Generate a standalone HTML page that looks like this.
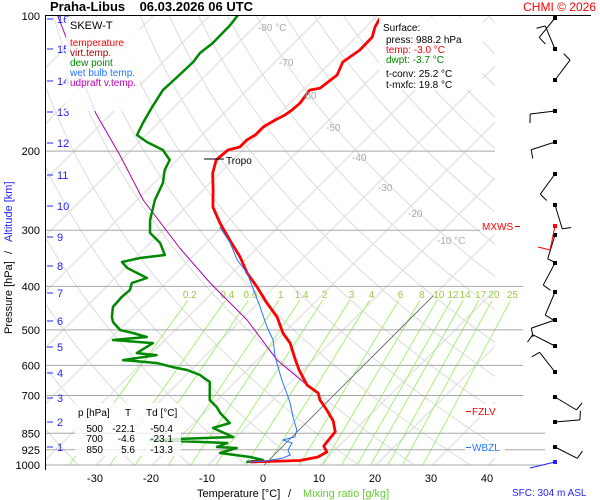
<!DOCTYPE html>
<html><head><meta charset="utf-8">
<style>
html,body{margin:0;padding:0;background:#fff;}
svg{display:block;font-family:"Liberation Sans",sans-serif;}
</style></head>
<body>
<svg id="chart" width="600" height="500" viewBox="0 0 600 500" xmlns="http://www.w3.org/2000/svg">
<defs><clipPath id="plotclip"><rect x="45" y="16" width="450" height="449"/></clipPath></defs>
<rect x="0" y="0" width="600" height="500" fill="#fff"/>
<g id="grid" clip-path="url(#plotclip)"></g>
<g id="mix"></g>
<g id="plines"></g>
<g id="series" clip-path="url(#plotclip)"></g>
<g id="winds"></g>
<g id="labels"></g>

<text x="50" y="11" font-size="13" font-weight="bold">Praha-Libus&#160;&#160;&#160;&#160;06.03.2026 06 UTC</text>
<text x="596" y="11" font-size="12" fill="#f00" text-anchor="end">CHMI © 2026</text>
<line x1="45" y1="15.5" x2="591" y2="15.5" stroke="#000" stroke-width="1"/>
<line x1="45.5" y1="15" x2="45.5" y2="470" stroke="#000" stroke-width="1"/>

<rect x="66" y="17" width="74" height="94" fill="#fff" opacity="0.85"/>
<g font-size="10">
<text x="70" y="29" font-size="11">SKEW-T</text>
<text x="70" y="46" fill="#f00">temperature</text>
<text x="70" y="56" fill="#a00">virt.temp.</text>
<text x="70" y="66" fill="#080">dew point</text>
<text x="70" y="76" fill="#27f">wet bulb temp.</text>
<text x="70" y="86" fill="#b0b">udpraft v.temp.</text>
</g>

<rect x="379" y="17" width="104" height="73" fill="#fff" opacity="0.9"/>
<g font-size="10">
<text x="383" y="31">Surface:</text>
<text x="386" y="43">press: 988.2 hPa</text>
<text x="386" y="53" fill="#f00">temp: -3.0 °C</text>
<text x="386" y="63" fill="#080">dwpt: -3.7 °C</text>
<text x="386" y="77">t-conv: 25.2 °C</text>
<text x="386" y="88">t-mxfc: 19.8 °C</text>
</g>

<rect x="75" y="403" width="106" height="53" fill="#fff" opacity="0.8"/>
<g font-size="10">
<text x="78" y="416">p [hPa]</text>
<text x="125" y="416">T</text>
<text x="146" y="416">Td [°C]</text>
<text x="103" y="432" text-anchor="end">500</text>
<text x="135" y="432" text-anchor="end">-22.1</text>
<text x="173" y="432" text-anchor="end">-50.4</text>
<text x="103" y="442" text-anchor="end">700</text>
<text x="135" y="442" text-anchor="end">-4.6</text>
<text x="173" y="442" text-anchor="end">-23.1</text>
<text x="103" y="453" text-anchor="end">850</text>
<text x="135" y="453" text-anchor="end">5.6</text>
<text x="173" y="453" text-anchor="end">-13.3</text>
</g>

<g>
<line x1="204" y1="159" x2="224" y2="159" stroke="#000" stroke-width="1"/>
<text x="226" y="164" font-size="10">Tropo</text>
</g>
<g>
<rect x="480" y="220" width="34" height="12" fill="#fff" opacity="0.9"/>
<text x="482" y="230" font-size="10" fill="#f00">MXWS</text>
<line x1="515" y1="226.5" x2="520" y2="226.5" stroke="#f00"/>
</g>
<g>
<rect x="465" y="404" width="40" height="13" fill="#fff" opacity="0.9"/>
<line x1="466" y1="411.5" x2="471" y2="411.5" stroke="#f00"/>
<text x="472" y="415" font-size="10" fill="#f00">FZLV</text>
</g>
<g>
<rect x="465" y="441" width="40" height="13" fill="#fff" opacity="0.9"/>
<line x1="466" y1="447.5" x2="471" y2="447.5" stroke="#27f"/>
<text x="472" y="451" font-size="10" fill="#27f">WBZL</text>
</g>

<g font-size="11">
<text x="197" y="497">Temperature [°C]</text>
<text x="288" y="497">/</text>
<text x="303" y="497" fill="#6c3">Mixing ratio [g/kg]</text>
</g>
<g font-size="11" transform="translate(12,250) rotate(-90)">
<text x="-84" y="0">Pressure [hPa]</text>
<text x="-4" y="0">/</text>
<text x="8" y="0" fill="#22f">Altitude [km]</text>
</g>
<text x="512" y="496" font-size="10" fill="#22f">SFC: 304 m ASL</text>

<script>
// ---- data ----
const pressureTicks = [100,200,300,400,500,600,700,850,925,1000];
const tempTicks = [-30,-20,-10,0,10,20,30,40];
const altKm = [1,2,3,4,5,6,7,8,9,10,11,12,13,14,15,16];
const altY = [447,422,398,373,347,321,293,266,237,206,175,143,112,81,49,19];
const isoLabels = [-80,-70,-60,-50,-40,-30,-20,-10];
const mixRatios = [0.2,0.4,0.6,1,1.4,2,3,4,6,8,10,12,14,17,20,25];

const tempP = [984.7,977.1,959.7,935.5,907.3,884.3,844.0,798.0,754.3,716.6,691.3,663.5,614.3,577.9,535.3,508.2,468.1,435.8,401.6,373.6,344.2,315.4,289.0,266.3,244.1,223.7,209.3,206.1,198.8,195.8,188.9,184.1,176.7,170.5,166.2,162.0,156.2,146.2,144.7,135.3,126.6,119.1,111.4,105.8,101.0];
const tempT = [-3.0,5.6,8.2,8.9,7.3,7.1,6.8,4.5,1.4,-1.6,-3.2,-6.6,-10.7,-13.6,-17.1,-20.2,-24.1,-28.4,-33.0,-37.3,-41.4,-46.3,-51.1,-55.2,-58.2,-61.3,-63.0,-62.9,-62.7,-61.1,-61.1,-60.5,-60.5,-59.6,-58.8,-58.4,-58.2,-58.8,-57.3,-56.6,-57.9,-57.0,-57.1,-58.4,-59.1];

const dewP = [984.7,974.6,959.7,940.3,916.7,912.0,893.4,879.8,866.3,827.2,806.2,765.9,742.7,716.6,653.4,630.3,614.3,605.2,593.0,589.9,583.9,569.2,563.4,535.3,526.8,518.7,508.2,500.4,480.3,468.1,444.8,422.6,407.6,393.3,383.3,364.1,353.1,345.9,340.7,320.2,304.2,284.6,256.9,235.5,220.3,209.3,198.8,190.8,184.1,173.1,159.4,146.2,136.7,126.6,120.9,114.9,104.7,99.5];
const dewT = [-3.7,-1.1,-3.9,-10.0,-7.9,-11.6,-10.5,-24.8,-10.5,-15.7,-13.6,-17.1,-18.8,-21.3,-24.5,-27.5,-30.7,-33.8,-37.3,-39.3,-43.9,-38.8,-42.7,-41.6,-49.3,-43.8,-47.0,-49.8,-52.5,-53.6,-55.2,-55.4,-55.2,-56.1,-54.3,-59.6,-61.6,-59.1,-55.2,-58.2,-61.8,-64.1,-66.8,-68.4,-70.4,-71.3,-74.3,-78.6,-81.6,-82.7,-83.9,-85.0,-84.8,-84.6,-85.0,-84.5,-84.6,-85.0];

const wetP = [984.7,979.7,965.1,950.0,926.2,893.4,879.8,866.3,835.7,781.8,727.7,691.3,646.7,593.0,574.9,526.8,492.8,444.8,401.6,373.6,349.5,320.2,295.0];
const wetT = [-3.3,-0.5,2.1,2.9,1.6,1.1,-1.1,0.5,-0.4,-3.4,-6.4,-8.8,-12.0,-15.9,-17.3,-20.7,-24.1,-28.9,-33.8,-37.3,-41.4,-45.7,-50.4];

const parcelP = [663.5,583.9,475.5,393.3,328.7,256.9,204.0,164.5,125.3,100];
const parcelT = [-6.6,-16.4,-28.9,-42.1,-53.8,-68.9,-81.1,-92.9,-106.1,-117.0];

const windY = [18,49,80,111,142,174,205,235,263,292,320,346,372,397,422,447];
const windDir = [129,247,-53,173,162,126,73,107,118,113,161,207,232,31,-5,27];

// ---- axes ----
const NS='http://www.w3.org/2000/svg';
function yP(p){return 16+449*Math.log10(p/100);}
function xT(t,p){return 264+5.6*t+(465-yP(p));}
function mk(tag,attrs,parent){const e=document.createElementNS(NS,tag);for(const k in attrs)e.setAttribute(k,attrs[k]);parent.appendChild(e);return e;}
const grid=document.getElementById('grid'),mix=document.getElementById('mix'),pl=document.getElementById('plines'),ser=document.getElementById('series'),winds=document.getElementById('winds'),lab=document.getElementById('labels');

// isotherms
for(let t=-140;t<=50;t+=10){
  const l=mk('line',{x1:xT(t,1000),y1:yP(1000),x2:xT(t,100),y2:yP(100),stroke:'#dcdcdc','stroke-width':1},grid);
  
  
}
// dry adiabats
for(let th=230;th<=520;th+=10){
  let d='';
  for(let p=1000;p>=100;p-=10){const t=th*Math.pow(p/1000,0.2857)-273.15;d+=(d?'L':'M')+xT(t,p).toFixed(1)+','+yP(p).toFixed(1);}
  const a=mk('path',{d:d,fill:'none',stroke:'#dcdcdc','stroke-width':1},grid);
  
  
}
// mixing ratio lines
function tdFromW(w,p){const e=w*p/(622+w);const l=Math.log(e/6.112);return 243.5*l/(17.67-l);}
mixRatios.forEach(w=>{
  const p1=1000,p2=430;
  const l=mk('line',{x1:xT(tdFromW(w,p1),p1),y1:yP(p1),x2:xT(tdFromW(w,p2),p2),y2:yP(p2),stroke:'#a6f07a','stroke-width':1},mix);
  
  
  const tx=mk('text',{x:xT(tdFromW(w,p2),p2)+2,y:298,'font-size':10,fill:'#9c4','text-anchor':'middle'},mix);
  tx.textContent=String(w);
  
  
});
// pressure lines & labels
pressureTicks.forEach(p=>{
  const y=yP(p);
  const end = p>=850?545:(p>=400?523:495);
  if(p>100){
    const l=mk('line',{x1:45,y1:y,x2:end,y2:y,stroke:'#a8a8a8','stroke-width':1},pl);
    
    
  }
  const t=mk('text',{x:40,y:y+4,'font-size':11,'text-anchor':'end'},lab);
  t.textContent=String(p);
  
  
});
tempTicks.forEach(tv=>{
  const t=mk('text',{x:xT(tv,1000)-1,y:482,'font-size':11,'text-anchor':'middle'},lab);
  t.textContent=String(tv);
  
  
});
altKm.forEach((k,i)=>{
  const l=mk('line',{x1:47,y1:altY[i],x2:53,y2:altY[i],stroke:'#22f','stroke-width':1},lab);
  
  
  const t=mk('text',{x:57,y:altY[i]+4,'font-size':11,fill:'#22f'},lab);
  t.textContent=String(k);
  
  
});
isoLabels.forEach(tv=>{
  const pp=[140,175,215,265,330,410,510,650][isoLabels.indexOf(tv)];
  const y=[27,62,95,127,157,187,213,240][isoLabels.indexOf(tv)];
  const p=100*Math.pow(10,(y-16)/449);
  const t=mk('text',{x:xT(tv,p)+4,y:y+4,'font-size':10,fill:'#aaa'},lab);
  t.textContent=(tv===-80||tv===-10)?tv+' °C':String(tv);
  
  
});
// reference diagonal
const dl=mk('line',{x1:xT(0,1000),y1:yP(1000),x2:xT(0,420),y2:yP(420),stroke:'#666','stroke-width':0.8},pl);



function series(P,T,color,w,name){
  let d='';P.forEach((p,i)=>{d+=(i?'L':'M')+xT(T[i],p).toFixed(1)+','+yP(p).toFixed(1);});
  const e=mk('path',{d:d,fill:'none',stroke:color,'stroke-width':w,'stroke-linejoin':'round'},ser);
  
  
}
series(parcelP,parcelT,'#a0a','1','parcel-curve');
series(dewP,dewT,'#080','2.5','dewpoint-line');
series(tempP,tempT,'#f00','2.8','temperature-line');
series(wetP,wetT,'#27f','1','wet-bulb-line');

// wind barbs
windY.forEach((y,i)=>{
  const a=windDir[i]*Math.PI/180, x0=555;
  const x1=x0+25*Math.cos(a), y1=y+25*Math.sin(a);
  const b=a-Math.PI/2.2;
  const g=mk('g',{},winds);
  
  
  mk('line',{x1:x0,y1:y,x2:x1,y2:y1,stroke:'#000','stroke-width':1},g);
  mk('line',{x1:x1,y1:y1,x2:x1+9*Math.cos(b),y2:y1+9*Math.sin(b),stroke:'#000','stroke-width':1},g);
  mk('rect',{x:x0-2,y:y-2,width:4,height:4,fill:'#000'},g);
});
const mw=mk('g',{},winds);


mk('line',{x1:555,y1:226,x2:550,y2:250,stroke:'#f00','stroke-width':1},mw);
mk('line',{x1:550,y1:250,x2:538,y2:247,stroke:'#f00','stroke-width':1},mw);
mk('rect',{x:553,y:224,width:4,height:4,fill:'#f00'},mw);
const sw=mk('g',{},winds);


mk('line',{x1:555,y1:462,x2:530,y2:468,stroke:'#22f','stroke-width':1},sw);
mk('rect',{x:553,y:460,width:4,height:4,fill:'#22f'},sw);
</script>
</svg>
</body></html>
